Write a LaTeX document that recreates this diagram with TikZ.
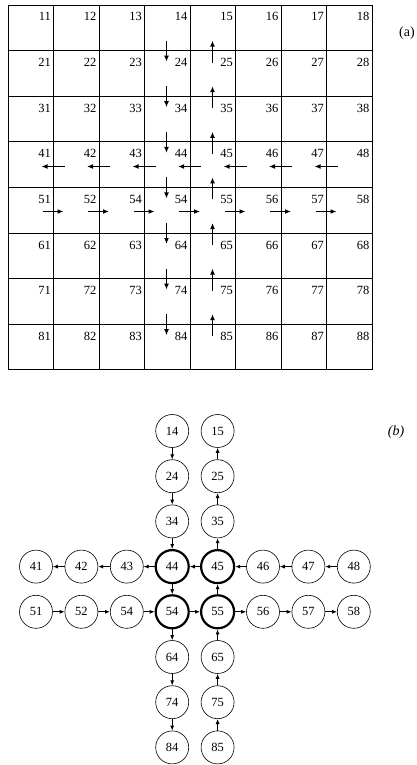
\documentclass[tikz,border=0pt]{standalone}
\usepackage{fontspec}
\setmainfont{Liberation Serif}
\usetikzlibrary{arrows.meta}
\begin{document}
\begin{tikzpicture}[x=1pt,y=-1pt,
  gridline/.style={line width=0.7pt},
  celllabel/.style={anchor=base east, inner sep=0pt, font=\fontsize{12.5}{14}\selectfont},
  flow/.style={line width=1.4pt, -{Latex[length=6pt,width=5pt]}},
  cell/.style={circle, draw, line width=0.6pt, minimum size=33pt, inner sep=0pt, font=\fontsize{12.5}{14}\selectfont},
  hub/.style={cell, line width=2.2pt},
  link/.style={line width=0.8pt, -{Latex[length=5pt,width=4pt]}},
  tag/.style={inner sep=0pt, font=\fontsize{14}{16}\selectfont}]
\useasboundingbox (0,0) rectangle (416,765);

% ---------- (a) grid ----------
\foreach \i in {0,...,8} {
  \draw[gridline] ({8+45.5*\i},5) -- ({8+45.5*\i},369.8);
  \draw[gridline] (8,{5+45.6*\i}) -- (372,{5+45.6*\i});
}
\foreach \r in {1,...,8} {
  \foreach \c in {1,...,8} {
    \node[celllabel] (a\r\c) at ({8+45.5*\c-2.5},{5+45.6*(\r-1)+16}) {\ifnum\r\c=53 54\else\r\c\fi};
  }
}
\foreach \j in {1,...,7} {
  \coordinate (dA\j) at (166.5,{5+45.6*\j-10});
  \coordinate (dB\j) at (166.5,{5+45.6*\j+11});
  \coordinate (uA\j) at (212.5,{5+45.6*\j+12});
  \coordinate (uB\j) at (212.5,{5+45.6*\j-10});
  \coordinate (lA\j) at ({8+45.5*\j+11},166.5);
  \coordinate (lB\j) at ({8+45.5*\j-12},166.5);
  \coordinate (rA\j) at ({8+45.5*\j-11},211.5);
  \coordinate (rB\j) at ({8+45.5*\j+10},211.5);
  \draw[flow] (dA\j) -- (dB\j);
  \draw[flow] (uA\j) -- (uB\j);
  \draw[flow] (lA\j) -- (lB\j);
  \draw[flow] (rA\j) -- (rB\j);
}
\node[tag] (taga) at (407,33) {(a)};

% ---------- (b) graph ----------
\foreach \r in {1,2,3,6,7,8} {
  \node[cell] (b\r4) at ({36+45.4*3},{431+45.2*(\r-1)}) {\r4};
  \node[cell] (b\r5) at ({36+45.4*4},{431+45.2*(\r-1)}) {\r5};
}
\foreach \c in {1,2,3,6,7,8} {
  \node[cell] (b4\c) at ({36+45.4*(\c-1)},{431+45.2*3}) {4\c};
  \node[cell] (b5\c) at ({36+45.4*(\c-1)},{431+45.2*4}) {\ifnum\c=3 54\else 5\c\fi};
}
\node[hub] (b44) at ({36+45.4*3},{431+45.2*3}) {44};
\node[hub] (b45) at ({36+45.4*4},{431+45.2*3}) {45};
\node[hub] (b54) at ({36+45.4*3},{431+45.2*4}) {54};
\node[hub] (b55) at ({36+45.4*4},{431+45.2*4}) {55};

\foreach \a/\b in {1/2,2/3,3/4,4/5,5/6,6/7,7/8} {
  \draw[link] (b\a4) -- (b\b4);
  \draw[link] (b\b5) -- (b\a5);
  \draw[link] (b4\b) -- (b4\a);
  \draw[link] (b5\a) -- (b5\b);
}
\node[tag] (tagb) at (396,432) {\textit{(b)}};
\end{tikzpicture}
\end{document}
